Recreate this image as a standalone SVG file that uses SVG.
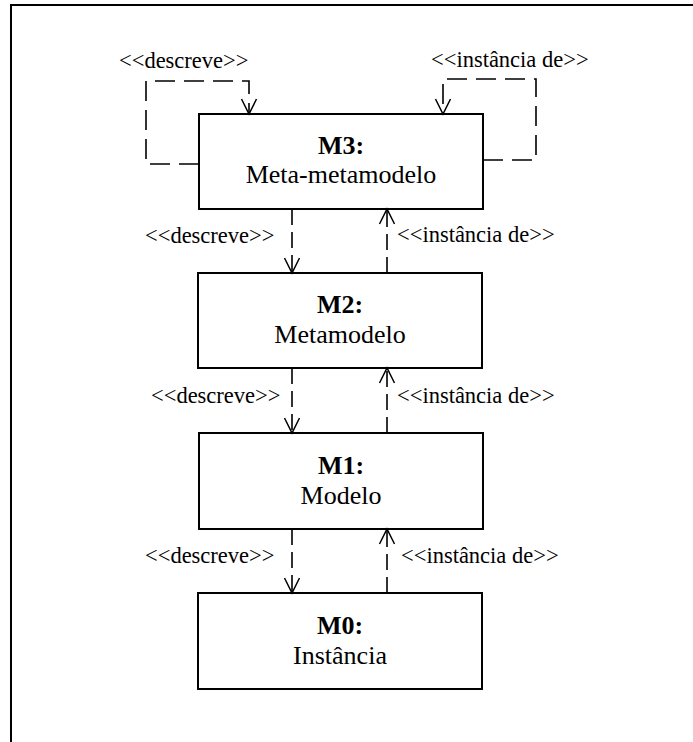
<svg xmlns="http://www.w3.org/2000/svg" width="693" height="742" viewBox="0 0 693 742">
  <style>
    .frame { fill: none; stroke: #000; stroke-width: 2; }
    .box { fill: #fff; stroke: #000; stroke-width: 2; }
    .title { font-family: "Liberation Serif", "Times New Roman", serif; font-size: 26px; font-weight: bold; text-anchor: middle; fill: #000; }
    .name { font-family: "Liberation Serif", "Times New Roman", serif; font-size: 26px; text-anchor: middle; fill: #000; }
    .lbl { font-family: "Liberation Serif", "Times New Roman", serif; font-size: 22.5px; fill: #000; }
    .dep { fill: none; stroke: #000; stroke-width: 1.6; stroke-dasharray: 16 7; marker-end: url(#open); }
    .loop { fill: none; stroke: #000; stroke-width: 1.6; stroke-dasharray: 20 9; marker-end: url(#open); }
  </style>
  <defs>
    <marker id="open" markerUnits="userSpaceOnUse" markerWidth="20" markerHeight="20" refX="15" refY="8" orient="auto" overflow="visible">
      <path d="M0,0.5 L15,8 L0,15.5" fill="none" stroke="#000" stroke-width="1.5" stroke-dasharray="none"/>
    </marker>
  </defs>

  <rect width="693" height="742" fill="#fff"/>

  <!-- open frame: top and left edges only -->
  <path class="frame" d="M11,742 V5 H693"/>

  <!-- level nodes -->
  <g id="m3">
    <rect class="box" x="199" y="114" width="284" height="95"/>
    <text class="title" x="341" y="154">M3:</text>
    <text class="name" x="341" y="183">Meta-metamodelo</text>
  </g>
  <g id="m2">
    <rect class="box" x="198" y="273" width="284" height="95"/>
    <text class="title" x="340" y="313">M2:</text>
    <text class="name" x="340" y="343">Metamodelo</text>
  </g>
  <g id="m1">
    <rect class="box" x="199" y="433" width="284" height="96"/>
    <text class="title" x="341" y="474">M1:</text>
    <text class="name" x="341" y="504">Modelo</text>
  </g>
  <g id="m0">
    <rect class="box" x="198" y="593" width="284" height="96"/>
    <text class="title" x="340" y="634">M0:</text>
    <text class="name" x="340" y="664">Instância</text>
  </g>

  <!-- dependencies between levels -->
  <g id="connectors">
    <!-- M3 self loops -->
    <path class="loop" d="M199,164 H146 V81 H249 V114"/>
    <path class="loop" d="M483,160 H536 V79 H443 V114"/>
    <!-- M3 / M2 -->
    <path class="dep" d="M292,209 V273"/>
    <path class="dep" d="M387,273 V209"/>
    <!-- M2 / M1 -->
    <path class="dep" d="M292,368 V433"/>
    <path class="dep" d="M387,433 V368"/>
    <!-- M1 / M0 -->
    <path class="dep" d="M292,529 V593"/>
    <path class="dep" d="M387,593 V529"/>
  </g>

  <!-- stereotype labels -->
  <g id="labels">
    <text class="lbl" x="119" y="68">&lt;&lt;descreve&gt;&gt;</text>
    <text class="lbl" x="431" y="67">&lt;&lt;instância de&gt;&gt;</text>
    <text class="lbl" x="145" y="243">&lt;&lt;descreve&gt;&gt;</text>
    <text class="lbl" x="397" y="242">&lt;&lt;instância de&gt;&gt;</text>
    <text class="lbl" x="151" y="403">&lt;&lt;descreve&gt;&gt;</text>
    <text class="lbl" x="397" y="403">&lt;&lt;instância de&gt;&gt;</text>
    <text class="lbl" x="145" y="563">&lt;&lt;descreve&gt;&gt;</text>
    <text class="lbl" x="401" y="563">&lt;&lt;instância de&gt;&gt;</text>
  </g>
</svg>
